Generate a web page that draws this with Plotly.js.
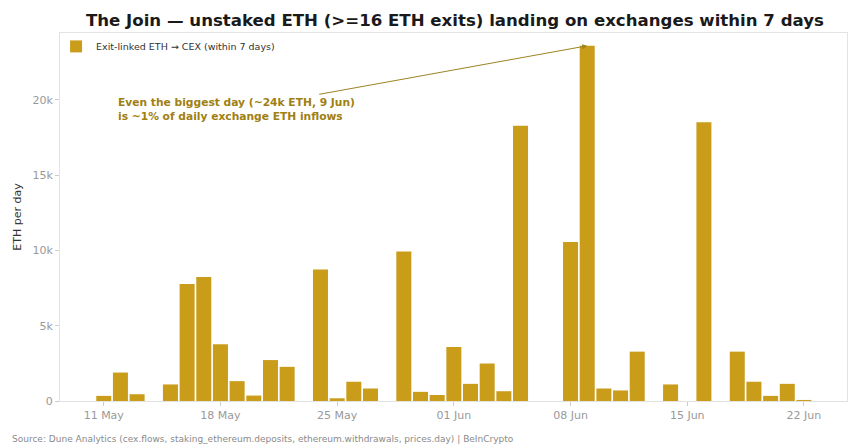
<!DOCTYPE html>
<html>
<head>
<meta charset="utf-8">
<script src="https://cdn.plot.ly/plotly-3.0.1.min.js"></script>
<style>html,body{margin:0;padding:0;background:#fff;}#chart{width:860px;height:448px;}</style>
</head>
<body>
<div id="chart"></div>
<script>
const dates = [
  "2025-05-11","2025-05-12","2025-05-13","2025-05-14","2025-05-15","2025-05-16","2025-05-17",
  "2025-05-18","2025-05-19","2025-05-20","2025-05-21","2025-05-22","2025-05-23","2025-05-24",
  "2025-05-25","2025-05-26","2025-05-27","2025-05-28","2025-05-29","2025-05-30","2025-05-31",
  "2025-06-01","2025-06-02","2025-06-03","2025-06-04","2025-06-05","2025-06-06","2025-06-07",
  "2025-06-08","2025-06-09","2025-06-10","2025-06-11","2025-06-12","2025-06-13","2025-06-14",
  "2025-06-15","2025-06-16","2025-06-17","2025-06-18","2025-06-19","2025-06-20","2025-06-21",
  "2025-06-22"
];
const ethToCex = [
  340, 1890, 450, 0, 1100, 7770, 8240,
  3770, 1320, 360, 2720, 2270, 0, 8730,
  180, 1280, 830, 0, 9940, 610, 400,
  3590, 1140, 2490, 650, 18290, 0, 0,
  10570, 23600, 830, 700, 3280, 0, 1100,
  0, 18520, 0, 3280, 1280, 340, 1140,
  70
];
const tickDates = ["2025-05-11","2025-05-18","2025-05-25","2025-06-01","2025-06-08","2025-06-15","2025-06-22"];
const yTicks = [0, 5000, 10000, 15000, 20000];
const yTickText = ["0", "5k", "10k", "15k", "20k"];
const peakDate = "2025-06-09";
const peakValue = 23600;

const gold = "#C99C1A";
const font = "DejaVu Sans, sans-serif";

const trace = {
  type: "bar",
  x: dates,
  y: ethToCex,
  name: "Exit-linked ETH \u2192 CEX (within 7 days)",
  marker: {color: gold, line: {width: 0}},
  hoverinfo: "x+y"
};

const layout = {
  width: 860, height: 448,
  margin: {l: 60, r: 13, t: 33, b: 47},
  paper_bgcolor: "#fff", plot_bgcolor: "#fff",
  font: {family: font, color: "#333"},
  bargap: 0.1,
  title: {
    text: "<b>The Join \u2014 unstaked ETH (>=16 ETH exits) landing on exchanges within 7 days</b>",
    font: {family: font, size: 16.6, color: "#1a1a1a"},
    x: 0.529, xanchor: "center", y: 0.955, yanchor: "middle"
  },
  showlegend: true,
  legend: {
    x: -0.005, y: 1.003, xanchor: "left", yanchor: "top",
    bgcolor: "rgba(255,255,255,0)", borderwidth: 0,
    font: {family: font, size: 9.5, color: "#333"},
    itemwidth: 30
  },
  xaxis: {
    type: "date",
    range: ["2025-05-08 09:00", "2025-06-24 14:00"],
    tickvals: tickDates,
    tickformat: "%d %b",
    ticks: "outside", ticklen: 4, tickcolor: "#ccc",
    tickfont: {family: font, size: 11, color: "#999"},
    showgrid: false, zeroline: false,
    showline: true, linecolor: "#e3e3e3", linewidth: 1, mirror: true
  },
  yaxis: {
    range: [0, 24450],
    tickvals: yTicks, ticktext: yTickText,
    ticks: "outside", ticklen: 4, tickcolor: "#ccc",
    tickfont: {family: font, size: 11, color: "#999"},
    showgrid: false, zeroline: false,
    showline: true, linecolor: "#e3e3e3", linewidth: 1, mirror: true,
    title: {text: "ETH per day", font: {family: font, size: 11, color: "#333"}, standoff: 8}
  },
  annotations: [
    {
      x: peakDate, y: peakValue, xref: "x", yref: "y",
      ax: "2025-05-18 23:00", ay: 19380, axref: "x", ayref: "y",
      text: "<b>Even the biggest day (~24k ETH, 9 Jun)<br>is ~1% of daily exchange ETH inflows</b>",
      align: "left",
      font: {family: font, size: 10.7, color: "#A08012"},
      showarrow: true, arrowhead: 2, arrowsize: 1, arrowwidth: 1, arrowcolor: "#9C8424",
      standoff: 0
    },
    {
      x: 0, y: 0, xref: "paper", yref: "paper",
      xshift: -50, yshift: -38,
      xanchor: "left", yanchor: "middle",
      text: "Source: Dune Analytics (cex.flows, staking_ethereum.deposits, ethereum.withdrawals, prices.day) | BeInCrypto",
      showarrow: false,
      font: {family: font, size: 9, color: "#8a8a8a"}
    }
  ]
};

Plotly.newPlot("chart", [trace], layout, {displayModeBar: false, staticPlot: true});
</script>
</body>
</html>
